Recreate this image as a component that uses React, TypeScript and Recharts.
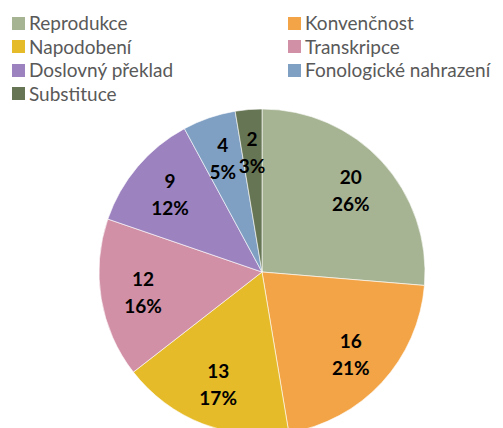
import { PieChart, Pie, Cell } from "recharts";

const categories = [
  "Reprodukce",
  "Konvenčnost",
  "Napodobení",
  "Transkripce",
  "Doslovný překlad",
  "Fonologické nahrazení",
  "Substituce",
];
const counts = [20, 16, 13, 12, 9, 4, 2];
const colors = ["#A6B493", "#F2A446", "#E5BB2A", "#D190A6", "#9C83C0", "#7F9FC3", "#667553"];

const data = categories.map((name, i) => ({ name, value: counts[i] }));

const RAD = Math.PI / 180;

function renderLabel(props: any) {
  const { cx, cy, midAngle, outerRadius, value, percent } = props;
  const r = outerRadius * 0.74;
  const x = cx + r * Math.cos(-midAngle * RAD);
  const y = cy + r * Math.sin(-midAngle * RAD);
  return (
    <text
      x={x}
      y={y}
      textAnchor="middle"
      fill="#000"
      fontFamily="Lato, sans-serif"
      fontWeight="bold"
      fontSize={19}
    >
      <tspan x={x} dy={-6}>{value}</tspan>
      <tspan x={x} dy={27}>{Math.round(percent * 100)}%</tspan>
    </text>
  );
}

function ChartLegend() {
  return (
    <div
      style={{
        position: "absolute",
        left: 12,
        top: 13,
        width: 491,
        display: "grid",
        gridTemplateColumns: "276px 215px",
        rowGap: 3.5,
        fontFamily: "Lato, sans-serif",
        fontSize: 19,
        lineHeight: "20px",
        color: "#595959",
      }}
    >
      {categories.map((name, i) => (
        <div key={name} style={{ display: "flex", alignItems: "center", whiteSpace: "nowrap" }}>
          <span
            style={{
              display: "inline-block",
              width: 13,
              height: 13,
              background: colors[i],
              marginRight: 4,
            }}
          />
          {name}
        </div>
      ))}
    </div>
  );
}

export default function App() {
  return (
    <div
      style={{
        position: "absolute",
        left: 0,
        top: 0,
        width: 503,
        height: 428,
        background: "#fff",
        overflow: "hidden",
      }}
    >
      <ChartLegend />
      <PieChart
        width={503}
        height={428}
        margin={{ top: 0, right: 0, bottom: 0, left: 0 }}
        style={{ position: "absolute", left: 0, top: 0 }}
      >
        <Pie
          data={data}
          dataKey="value"
          nameKey="name"
          cx={262}
          cy={272}
          outerRadius={163}
          startAngle={90}
          endAngle={-270}
          stroke="#fff"
          strokeWidth={0.6}
          label={renderLabel}
          labelLine={false}
          isAnimationActive={false}
        >
          {data.map((d, i) => (
            <Cell key={d.name} fill={colors[i]} />
          ))}
        </Pie>
      </PieChart>
    </div>
  );
}
